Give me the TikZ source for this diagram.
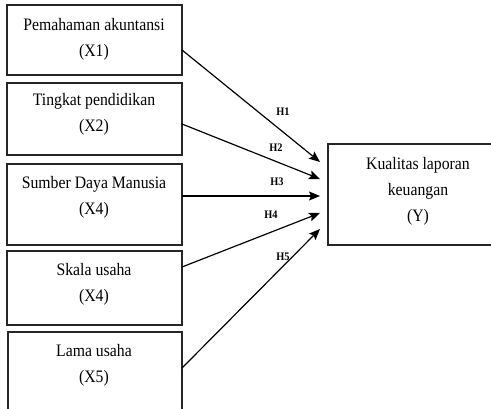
\documentclass[tikz,border=0pt]{standalone}
\usepackage{fontspec}
\setmainfont[FakeStretch=0.9]{Liberation Serif}
\usetikzlibrary{arrows.meta}
\begin{document}
\begin{tikzpicture}[x=1pt,y=-1pt,
 box/.style={draw=black!85, line width=1.3pt, inner sep=0pt, outer sep=0pt},
 txt/.style={font=\fontsize{17.5}{26}\selectfont, align=center, inner sep=0pt},
 hl/.style={font=\fontsize{11.5}{12}\selectfont\bfseries, inner sep=0pt},
 arr/.style={line width=1.2pt, -{Stealth[length=11pt,width=9pt,inset=2pt]}}]
\useasboundingbox (0,0) rectangle (491,408);
\clip (0,0) rectangle (491,408);
% boxes
\node[box, minimum width=175pt, minimum height=70pt] (b1) at (94.5,40) {};
\node[box, minimum width=175pt, minimum height=72pt] (b2) at (94.5,119) {};
\node[box, minimum width=175pt, minimum height=81pt] (b3) at (94.5,204.5) {};
\node[box, minimum width=175pt, minimum height=74pt] (b4) at (94.5,288) {};
\node[box, minimum width=174pt, minimum height=80pt] (b5) at (95,372) {};
\node[box, minimum width=177pt, minimum height=101pt] (y) at (416.5,194.5) {};
% texts
\node[txt] (t1) at (94,39.5) {Pemahaman akuntansi\\(X1)};
\node[txt] (t2) at (94,114) {Tingkat pendidikan\\(X2)};
\node[txt] (t3) at (94,197.5) {Sumber Daya Manusia\\(X4)};
\node[txt] (t4) at (94,284) {Skala usaha\\(X4)};
\node[txt] (t5) at (94,365.5) {Lama usaha\\(X5)};
\node[txt] (ty) at (418,191.5) {Kualitas laporan\\keuangan\\(Y)};
% targets
\coordinate (e1) at ([xshift=-8pt,yshift=32.5pt]y.west);
\coordinate (e2) at ([xshift=-8pt,yshift=15.5pt]y.west);
\coordinate (e3) at ([xshift=-8pt,yshift=-1.5pt]y.west);
\coordinate (e4) at ([xshift=-8pt,yshift=-18.5pt]y.west);
\coordinate (e5) at ([xshift=-8pt,yshift=-34.5pt]y.west);
% arrows
\draw[arr] ([yshift=-10pt]b1.east) -- (e1);
\draw[arr] ([yshift=-5pt]b2.east) -- (e2);
\draw[arr] ([yshift=8.5pt]b3.east) -- (e3);
\draw[arr] ([yshift=21pt]b4.east) -- (e4);
\draw[arr] ([yshift=4pt]b5.east) -- (e5);
% labels
\node[hl] (h1) at (283,112) {H1};
\node[hl] (h2) at (276,148) {H2};
\node[hl] (h3) at (277,182) {H3};
\node[hl] (h4) at (271,215) {H4};
\node[hl] (h5) at (283,257) {H5};
\end{tikzpicture}
\end{document}
